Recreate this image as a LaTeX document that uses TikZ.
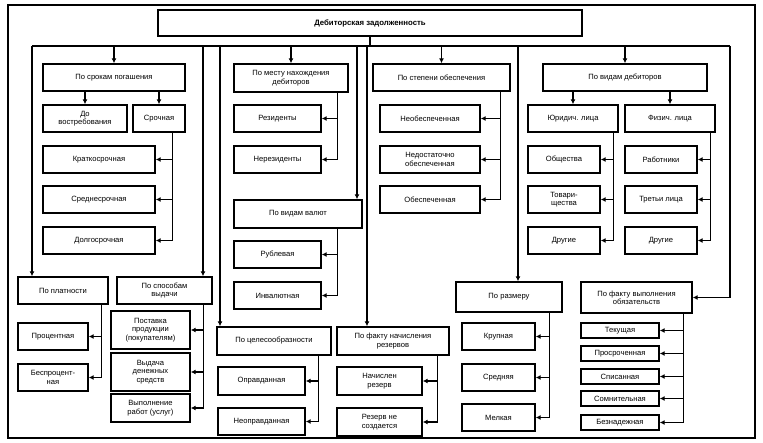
\documentclass[tikz,border=0pt]{standalone}
\usepackage{fontspec}
\setmainfont{Liberation Sans}
\usetikzlibrary{calc, positioning, arrows.meta}

\begin{document}
\begin{tikzpicture}[x=1pt, y=-1pt, thick, > = {Latex[length=5pt, width=5pt]}]
    \tikzset{
      my box/.style={
        draw, line width=1.4pt, align=center, inner sep=1pt,
        font=\fontsize{7.6}{8.4}\selectfont,
        minimum width=#1
      },
      my rail/.style={->, line width=1.4pt},
    }
    \useasboundingbox (0,0) rectangle (763,443);
    \draw[line width=1.5pt] (8,5) rectangle (755,438);

    % Root
    \node (root) [my box=424, minimum height=26, font=\fontsize{7.8}{9}\bfseries] at (370,23) {Дебиторская задолженность};

    % By repayment terms
    \node (sroki) [my box=142, minimum height=27] at (114,77.5) {По срокам погашения};
    \node (dovost) [my box=84, minimum height=27] at (85,118.5) {До\\востребования};
    \node (sroch) [my box=52, minimum height=27] at (159,118.5) {Срочная};
    \node (kratk) [my box=112, minimum height=27] at (99,159.5) {Краткосрочная};
    \node (sredn) [my box=112, minimum height=27] at (99,199.5) {Среднесрочная};
    \node (dolg) [my box=112, minimum height=27] at (99,240.5) {Долгосрочная};

    % By payment
    \node (plat) [my box=90, minimum height=27] at (63,290.5) {По платности};
    \node (proc) [my box=70, minimum height=27] at (53,336.5) {Процентная};
    \node (besp) [my box=70, minimum height=27] at (53,377.5) {Беспроцент-\\ная};

    % By issuing
    \node (spos) [my box=95, minimum height=27] at (164.5,290.5) {По способам\\выдачи};
    \node (post) [my box=79, minimum height=38] at (150.5,330) {Поставка\\продукции\\(покупателям)};
    \node (vyd) [my box=79, minimum height=38] at (150.5,372) {Выдача\\денежных\\средств};
    \node (vyp) [my box=79, minimum height=28] at (150.5,408) {Выполнение\\работ (услуг)};

    % By location
    \node (mesto) [my box=114, minimum height=28] at (291,78) {По месту нахождения\\дебиторов};
    \node (rez) [my box=87, minimum height=27] at (277.5,118.5) {Резиденты};
    \node (nerez) [my box=87, minimum height=27] at (277.5,159.5) {Нерезиденты};

    % By currency
    \node (valut) [my box=128, minimum height=28] at (298,214) {По видам валют};
    \node (rub) [my box=87, minimum height=27] at (277.5,254.5) {Рублевая};
    \node (inval) [my box=87, minimum height=27] at (277.5,295.5) {Инвалютная};

    % By expediency
    \node (cel) [my box=114, minimum height=28] at (274,341) {По целесообразности};
    \node (opr) [my box=87, minimum height=28] at (261.5,381) {Оправданная};
    \node (neopr) [my box=87, minimum height=27] at (261.5,421.5) {Неоправданная};

    % By reserves
    \node (rezerv) [my box=112, minimum height=28] at (393,341) {По факту начисления\\резервов};
    \node (nach) [my box=85, minimum height=28] at (379.5,381) {Начислен\\резерв};
    \node (nesozd) [my box=85, minimum height=28] at (379.5,422) {Резерв не\\создается};

    % By security
    \node (stepen) [my box=137, minimum height=27] at (441.5,77.5) {По степени обеспечения};
    \node (neob) [my box=100, minimum height=27] at (430,118.5) {Необеспеченная};
    \node (nedost) [my box=100, minimum height=27] at (430,159.5) {Недостаточно\\обеспеченная};
    \node (obesp) [my box=100, minimum height=27] at (430,199.5) {Обеспеченная};

    % By debtor type
    \node (vidy) [my box=164, minimum height=27] at (625,77.5) {По видам дебиторов};
    \node (yur) [my box=90, minimum height=27] at (573,118.5) {Юридич. лица};
    \node (fiz) [my box=90, minimum height=27] at (670,118.5) {Физич. лица};
    \node (obsh) [my box=72, minimum height=27] at (564,159.5) {Общества};
    \node (tov) [my box=72, minimum height=27] at (564,199.5) {Товари-\\щества};
    \node (dr1) [my box=72, minimum height=27] at (564,240.5) {Другие};
    \node (rab) [my box=72, minimum height=27] at (661,159.5) {Работники};
    \node (tret) [my box=72, minimum height=27] at (661,199.5) {Третьи лица};
    \node (dr2) [my box=72, minimum height=27] at (661,240.5) {Другие};

    % By size
    \node (razm) [my box=106, minimum height=30] at (509,297) {По размеру};
    \node (krup) [my box=73, minimum height=27] at (498.5,336.5) {Крупная};
    \node (sred) [my box=73, minimum height=27] at (498.5,377.5) {Средняя};
    \node (melk) [my box=73, minimum height=27] at (498.5,417.5) {Мелкая};

    % By fulfilment
    \node (fakt) [my box=111, minimum height=31] at (636.5,297.5) {По факту выполнения\\обязательств};
    \foreach \name/\y/\txt in {tek/330.5/Текущая, pros/353.5/Просроченная, spis/376.5/Списанная,
                               somn/398.5/Сомнительная, bezn/422.5/Безнадежная}
      \node (\name) [my box=78, minimum height=15] at (620,\y) {\txt};

    % Main bus
    \coordinate (busL) at (32,46);
    \coordinate (busR) at (730,46);
    \draw[line width=1.4pt] (root.south) -- (root.south |- busL);
    \draw[line width=1.4pt] (busL) -- (busR);
    \draw[my rail] (busL) -- (busL |- plat.north);
    \draw[my rail] (busR) |- (fakt.east);
    \foreach \n in {sroki, mesto, stepen, vidy}
      \draw[my rail] (\n.north |- busL) -- (\n.north);
    \foreach \x/\n in {203/spos, 220/cel, 357/valut, 367/rezerv, 518/razm}
      \draw[my rail] (\x,46) -- (\x,46 |- \n.north);

    % Sub-branches
    \foreach \n in {dovost, sroch}
      \draw[my rail] (\n.north |- sroki.south) -- (\n.north);
    \foreach \n in {yur, fiz}
      \draw[my rail] (\n.north |- vidy.south) -- (\n.north);

    % Rails to children
    \foreach \p/\s/\kids in {sroch/13/{kratk,sredn,dolg}, plat/7/{proc,besp},
        spos/9/{post,vyd,vyp}, mesto/11/{rez,nerez}, valut/25/{rub,inval},
        cel/13/{opr,neopr}, rezerv/12/{nach,nesozd}, stepen/10/{neob,nedost,obesp},
        yur/5/{obsh,tov,dr1}, fiz/5/{rab,tret,dr2}, razm/13/{krup,sred,melk},
        fakt/9/{tek,pros,spis,somn,bezn}}
      \foreach \c in \kids
        \draw[my rail] ([xshift=-\s pt]\p.south east) |- (\c.east);
\end{tikzpicture}
\end{document}
